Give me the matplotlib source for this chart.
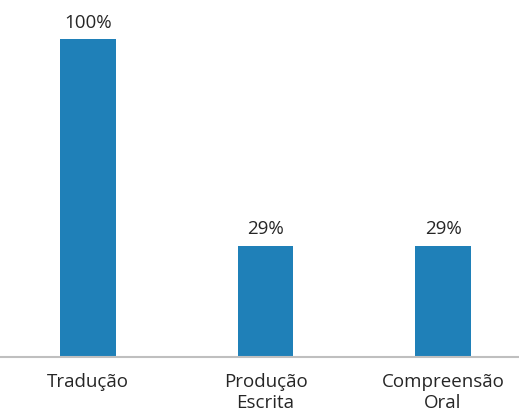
import matplotlib.pyplot as plt

# Dados do gráfico
categorias = ['Tradução', 'Produção\nEscrita', 'Compreensão\nOral']
alturas = [100, 35, 35]          # altura das barras
rotulos = ['100%', '29%', '29%']  # rótulos impressos acima das barras

plt.rcParams['font.family'] = ['Open Sans', 'DejaVu Sans']

fig = plt.figure(figsize=(5.19, 4.14), dpi=100)
ax = fig.add_axes([0.0, 56 / 414, 1.0, 358 / 414])

x = range(len(categorias))
bars = ax.bar(x, alturas, width=0.315, color='#1f80b8', zorder=2)

for b, txt in zip(bars, rotulos):
    ax.annotate(txt, (b.get_x() + b.get_width() / 2, b.get_height()),
                xytext=(0, 6), textcoords='offset points',
                ha='center', va='bottom', fontsize=13.5, color='#262626')

ax.set_xlim(-0.496, 2.428)
ax.set_ylim(0, 112.6)
ax.set_xticks(list(x))
ax.set_xticklabels(categorias, fontsize=13.5, color='#262626', linespacing=1.2)
ax.tick_params(axis='x', length=0, pad=11)
ax.set_yticks([])

for s in ['top', 'right', 'left']:
    ax.spines[s].set_visible(False)
ax.spines['bottom'].set_color('#bfbfbf')
ax.spines['bottom'].set_linewidth(1.5)

fig.savefig('out.png', dpi=100)
